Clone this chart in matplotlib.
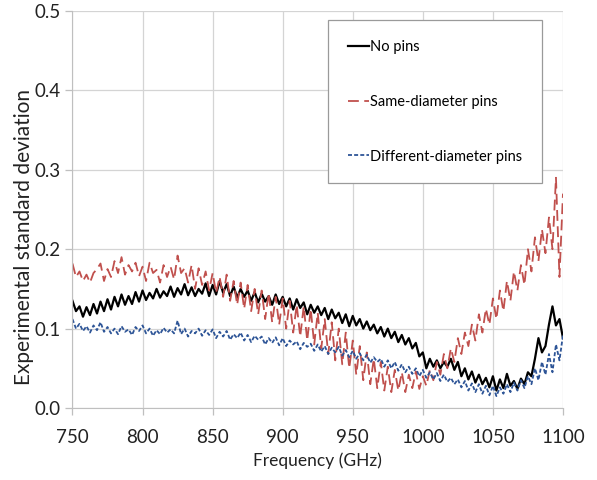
import numpy as np
import matplotlib
matplotlib.use("Agg")
import matplotlib.pyplot as plt

# frequency grid, 2.5 GHz step
freq = np.arange(750, 1100.1, 2.5)

no_pins = [
    0.135, 0.122, 0.128, 0.115, 0.127, 0.117, 0.131, 0.119, 0.134, 0.122,
    0.137, 0.124, 0.140, 0.128, 0.143, 0.130, 0.141, 0.131, 0.146, 0.134,
    0.148, 0.136, 0.145, 0.138, 0.150, 0.139, 0.147, 0.141, 0.153, 0.140,
    0.151, 0.143, 0.156, 0.142, 0.152, 0.141, 0.150, 0.144, 0.157, 0.141,
    0.155, 0.143, 0.160, 0.145, 0.156, 0.141, 0.153, 0.139, 0.150, 0.140,
    0.148, 0.135, 0.146, 0.133, 0.144, 0.134, 0.141, 0.130, 0.143, 0.131,
    0.140, 0.128, 0.138, 0.124, 0.137, 0.126, 0.133, 0.118, 0.130, 0.120,
    0.128, 0.117, 0.126, 0.112, 0.124, 0.113, 0.120, 0.107, 0.118, 0.103,
    0.116, 0.104, 0.112, 0.100, 0.109, 0.098, 0.105, 0.094, 0.102, 0.090,
    0.100, 0.088, 0.096, 0.083, 0.092, 0.080, 0.088, 0.075, 0.082, 0.065,
    0.070, 0.050, 0.062, 0.052, 0.060, 0.050, 0.058, 0.052, 0.062, 0.048,
    0.058, 0.040, 0.050, 0.036, 0.046, 0.032, 0.042, 0.030, 0.038, 0.026,
    0.040, 0.022, 0.036, 0.025, 0.043, 0.028, 0.034, 0.024, 0.037, 0.030,
    0.045, 0.040, 0.062, 0.088, 0.070, 0.078, 0.105, 0.128, 0.104, 0.112,
    0.088,
]

same_diameter = [
    0.182, 0.165, 0.172, 0.160, 0.168, 0.158, 0.170, 0.175, 0.182, 0.160,
    0.175, 0.165, 0.185, 0.170, 0.190, 0.168, 0.180, 0.172, 0.183, 0.166,
    0.178, 0.160, 0.183, 0.170, 0.174, 0.158, 0.180, 0.165, 0.178, 0.162,
    0.192, 0.170, 0.176, 0.158, 0.180, 0.150, 0.176, 0.155, 0.172, 0.148,
    0.170, 0.145, 0.165, 0.140, 0.168, 0.135, 0.160, 0.130, 0.158, 0.125,
    0.155, 0.122, 0.150, 0.118, 0.148, 0.112, 0.145, 0.108, 0.140, 0.105,
    0.138, 0.100, 0.135, 0.095, 0.130, 0.090, 0.128, 0.085, 0.125, 0.080,
    0.120, 0.075, 0.112, 0.068, 0.108, 0.060, 0.100, 0.055, 0.095, 0.050,
    0.085, 0.042, 0.078, 0.035, 0.070, 0.030, 0.062, 0.025, 0.058, 0.022,
    0.052, 0.020, 0.048, 0.022, 0.045, 0.020, 0.042, 0.025, 0.046, 0.024,
    0.040, 0.028, 0.048, 0.035, 0.058, 0.042, 0.068, 0.050, 0.075, 0.058,
    0.088, 0.068, 0.095, 0.078, 0.105, 0.085, 0.118, 0.095, 0.125, 0.105,
    0.138, 0.112, 0.148, 0.122, 0.160, 0.135, 0.172, 0.148, 0.180, 0.155,
    0.200, 0.172, 0.215, 0.185, 0.225, 0.195, 0.240, 0.200, 0.290, 0.165,
    0.270,
]

diff_diameter = [
    0.112, 0.100, 0.106, 0.097, 0.103, 0.095, 0.104, 0.098, 0.108, 0.096,
    0.102, 0.094, 0.100, 0.093, 0.103, 0.096, 0.099, 0.092, 0.102, 0.097,
    0.104, 0.094, 0.100, 0.091, 0.098, 0.093, 0.101, 0.095, 0.099, 0.094,
    0.110, 0.093, 0.100, 0.090, 0.097, 0.094, 0.100, 0.091, 0.098, 0.092,
    0.099, 0.088, 0.096, 0.090, 0.097, 0.086, 0.093, 0.088, 0.095, 0.085,
    0.092, 0.083, 0.091, 0.086, 0.090, 0.080, 0.088, 0.082, 0.089, 0.079,
    0.088, 0.078, 0.085, 0.080, 0.084, 0.074, 0.082, 0.077, 0.081, 0.072,
    0.080, 0.071, 0.078, 0.068, 0.076, 0.070, 0.077, 0.066, 0.073, 0.064,
    0.072, 0.062, 0.069, 0.060, 0.067, 0.057, 0.064, 0.058, 0.062, 0.052,
    0.060, 0.050, 0.058, 0.047, 0.055, 0.045, 0.052, 0.043, 0.050, 0.040,
    0.048, 0.038, 0.045, 0.036, 0.044, 0.034, 0.042, 0.033, 0.038, 0.030,
    0.036, 0.026, 0.034, 0.022, 0.031, 0.020, 0.030, 0.018, 0.028, 0.016,
    0.028, 0.015, 0.026, 0.018, 0.030, 0.020, 0.032, 0.022, 0.035, 0.025,
    0.040, 0.030, 0.050, 0.035, 0.058, 0.042, 0.068, 0.045, 0.080, 0.060,
    0.092,
]

x_ticks = [750, 800, 850, 900, 950, 1000, 1050, 1100]
y_ticks = [0.0, 0.1, 0.2, 0.3, 0.4, 0.5]

plt.rcParams["font.family"] = ["Lato", "DejaVu Sans"]

fig = plt.figure(figsize=(5.97, 4.8), dpi=100)
ax = fig.add_axes([0.1214, 0.15, 0.8216, 0.827])

ax.plot(freq, no_pins, color="black", linewidth=1.6, label="No pins")
ax.plot(freq, same_diameter, color="#C0504D", linewidth=1.3,
        linestyle=(0, (6, 3)), label="Same-diameter pins")
ax.plot(freq, diff_diameter, color="#2E5597", linewidth=1.3,
        linestyle=(0, (2.2, 1.2)), label="Different-diameter pins")

ax.set_xlim(750, 1100)
ax.set_ylim(0, 0.5)
ax.set_xticks(x_ticks)
ax.set_yticks(y_ticks)
ax.set_yticklabels([f"{v:.1f}" for v in y_ticks])
ax.grid(True, color="#d4d4d4", linewidth=0.9)
ax.set_axisbelow(True)

for side in ("top", "right"):
    ax.spines[side].set_visible(False)
for side in ("left", "bottom"):
    ax.spines[side].set_color("#bfbfbf")
ax.tick_params(axis="both", colors="#bfbfbf", labelcolor="#222222",
               labelsize=13.5, length=5, width=0.9)
ax.tick_params(axis="x", pad=10)

ax.set_xlabel("Frequency (GHz)", fontsize=12.5, color="#222222", labelpad=5)
ax.set_ylabel("Experimental standard deviation", fontsize=15,
              color="#222222")
ax.yaxis.set_label_coords(-0.078, 0.43)

leg = ax.legend(loc="upper left", bbox_to_anchor=(0.521, 0.977),
                fontsize=10.5, handlelength=1.45, handletextpad=0.1,
                labelspacing=2.8, borderpad=1.35, borderaxespad=0,
                fancybox=False, framealpha=1, edgecolor="#9a9a9a")
leg.get_frame().set_linewidth(0.9)

fig.savefig("out.png", dpi=100)
